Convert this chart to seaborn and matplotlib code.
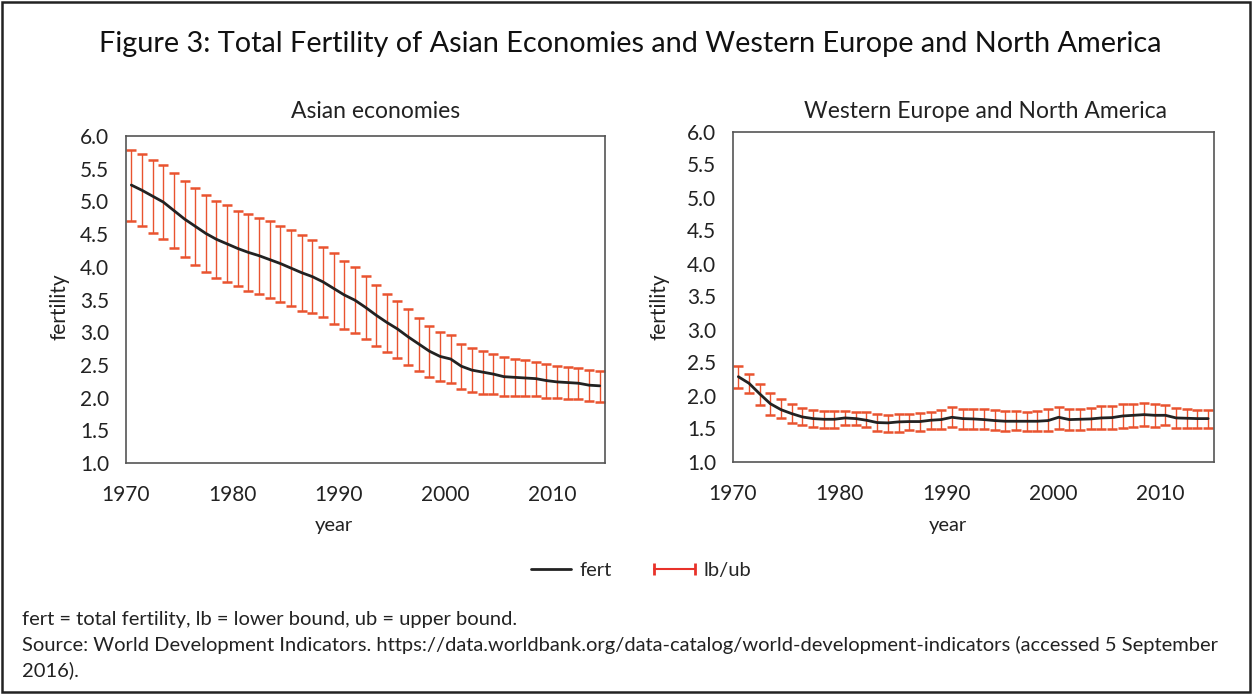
import numpy as np
import matplotlib.pyplot as plt
import seaborn as sns
from matplotlib.lines import Line2D
from matplotlib.patches import Rectangle

# data (total fertility with lower / upper bounds)
years = list(range(1970, 2015))

asia_fert = [5.25, 5.17, 5.08, 4.99, 4.86, 4.73, 4.62, 4.51, 4.42, 4.35,
             4.28, 4.22, 4.17, 4.11, 4.05, 3.98, 3.91, 3.85, 3.77, 3.67,
             3.57, 3.49, 3.38, 3.26, 3.15, 3.05, 2.93, 2.82, 2.71, 2.63,
             2.59, 2.48, 2.42, 2.39, 2.36, 2.32, 2.31, 2.30, 2.29, 2.26,
             2.24, 2.23, 2.22, 2.19, 2.18]
asia_lb = [4.70, 4.62, 4.52, 4.43, 4.29, 4.15, 4.03, 3.92, 3.83, 3.76,
           3.70, 3.63, 3.58, 3.52, 3.46, 3.40, 3.33, 3.29, 3.23, 3.13,
           3.05, 2.99, 2.90, 2.79, 2.70, 2.61, 2.50, 2.41, 2.32, 2.25,
           2.22, 2.13, 2.08, 2.06, 2.05, 2.02, 2.02, 2.03, 2.02, 2.00,
           1.99, 1.98, 1.98, 1.95, 1.94]
asia_ub = [5.79, 5.72, 5.64, 5.55, 5.43, 5.31, 5.20, 5.10, 5.01, 4.94,
           4.86, 4.80, 4.75, 4.70, 4.63, 4.56, 4.48, 4.41, 4.31, 4.21,
           4.09, 3.99, 3.86, 3.72, 3.59, 3.48, 3.35, 3.22, 3.10, 3.01,
           2.95, 2.82, 2.76, 2.71, 2.67, 2.62, 2.59, 2.57, 2.55, 2.51,
           2.49, 2.47, 2.45, 2.42, 2.41]

west_fert = [2.285, 2.185, 2.025, 1.875, 1.785, 1.725, 1.675, 1.65, 1.64, 1.64,
             1.66, 1.65, 1.625, 1.59, 1.585, 1.60, 1.605, 1.605, 1.625, 1.635,
             1.67, 1.65, 1.645, 1.635, 1.62, 1.61, 1.61, 1.61, 1.61, 1.62,
             1.67, 1.635, 1.64, 1.645, 1.66, 1.665, 1.69, 1.70, 1.71, 1.70,
             1.70, 1.66, 1.655, 1.65, 1.65]
west_lb = [2.12, 2.045, 1.86, 1.71, 1.66, 1.59, 1.55, 1.53, 1.515, 1.515,
           1.55, 1.55, 1.53, 1.465, 1.44, 1.44, 1.47, 1.465, 1.49, 1.49,
           1.525, 1.50, 1.50, 1.49, 1.475, 1.46, 1.475, 1.46, 1.46, 1.46,
           1.50, 1.475, 1.48, 1.485, 1.50, 1.50, 1.51, 1.52, 1.54, 1.53,
           1.55, 1.51, 1.51, 1.51, 1.515]
west_ub = [2.45, 2.32, 2.17, 2.035, 1.95, 1.875, 1.81, 1.785, 1.76, 1.76,
           1.765, 1.75, 1.75, 1.72, 1.71, 1.72, 1.725, 1.73, 1.75, 1.775,
           1.825, 1.80, 1.80, 1.79, 1.775, 1.765, 1.765, 1.755, 1.765, 1.79,
           1.825, 1.80, 1.80, 1.815, 1.835, 1.835, 1.875, 1.875, 1.89, 1.87,
           1.86, 1.81, 1.80, 1.785, 1.785]

panel_titles = ["Asian economies", "Western Europe and North America"]
yticks = [1.0, 1.5, 2.0, 2.5, 3.0, 3.5, 4.0, 4.5, 5.0, 5.5, 6.0]
xticks = [1970, 1980, 1990, 2000, 2010]

RED = "#E9532F"

sns.set_style("white")
plt.rcParams["font.family"] = ["Lato", "DejaVu Sans"]

W, H = 1252, 694
fig = plt.figure(figsize=(W / 100, H / 100), dpi=100)

# axes boxes in pixels: left, top, right, bottom
boxes = [(126, 136, 605, 463), (733, 131.5, 1213.5, 461.5)]
panels = [(asia_fert, asia_lb, asia_ub), (west_fert, west_lb, west_ub)]
title_x = [376, 986]
xlabel_x = [334, 948]
ylabel_x = [60, 660]

for i, ((l, t, r, b), (fert, lb, ub)) in enumerate(zip(boxes, panels)):
    ax = fig.add_axes([l / W, 1 - b / H, (r - l) / W, (b - t) / H])
    # Excel category axis: points sit mid-year
    xs = np.array(years) + 0.5
    f = np.array(fert)
    yerr = [f - np.array(lb), np.array(ub) - f]
    ax.errorbar(xs, f, yerr=yerr, fmt="none", ecolor=RED, elinewidth=1.0,
                capsize=3.8, capthick=1.8, zorder=2)
    sns.lineplot(x=xs, y=f, ax=ax, color="#222222", linewidth=2.0, zorder=3)

    ax.set_xlim(1970, 2015)
    ax.set_ylim(1.0, 6.0)
    ax.set_xticks(xticks)
    ax.set_yticks(yticks)
    ax.set_yticklabels([f"{v:.1f}" for v in yticks])
    ax.tick_params(axis="both", direction="out", length=5, width=1,
                   color="#444444", labelsize=15, labelcolor="#222222")
    ax.tick_params(axis="y", pad=7)
    ax.tick_params(axis="x", pad=11)
    for s in ax.spines.values():
        s.set_color("#555555")
        s.set_linewidth(1.2)
    ax.set_xlabel("")
    ax.set_ylabel("")

    fig.text(title_x[i] / W, 1 - 112 / H, panel_titles[i], ha="center",
             va="center", fontsize=16.5, color="#222222")
    fig.text(xlabel_x[i] / W, 1 - 525 / H, "year", ha="center", va="center",
             fontsize=14.5, color="#222222")
    fig.text(ylabel_x[i] / W, 1 - 307 / H, "fertility", ha="center",
             va="center", rotation=90, fontsize=15, color="#222222")

fig.text(630 / W, 1 - 44 / H,
         "Figure 3: Total Fertility of Asian Economies and Western Europe and North America",
         ha="center", va="center", fontsize=20.8, color="#111111")

handles = [Line2D([], [], color="#222222", linewidth=2.0),
           Line2D([], [], color="#E8322A", linewidth=1.5, marker="|",
                  markersize=9, markeredgewidth=2)]
fig.legend(handles, ["fert", "lb/ub"], loc="center", ncol=2, numpoints=2,
           bbox_to_anchor=(638 / W, 1 - 570 / H), frameon=False, fontsize=14.5,
           handlelength=2.6, handletextpad=0.15, columnspacing=1.8)

fig.text(22 / W, 1 - 620 / H,
         "fert = total fertility, lb = lower bound, ub = upper bound.",
         ha="left", va="center", fontsize=14.5, color="#222222")
fig.text(22 / W, 1 - 645 / H,
         "Source: World Development Indicators. https://data.worldbank.org/data-catalog/world-development-indicators (accessed 5 September",
         ha="left", va="center", fontsize=14.5, color="#222222")
fig.text(22 / W, 1 - 670 / H, "2016).", ha="left", va="center",
         fontsize=14.5, color="#222222")

# outer frame around the whole figure
fig.patches.append(Rectangle((2 / W, 2 / H), 1 - 4 / W, 1 - 4 / H,
                             transform=fig.transFigure, fill=False,
                             edgecolor="#222222", linewidth=1.8))

fig.savefig("out.png", dpi=100)
